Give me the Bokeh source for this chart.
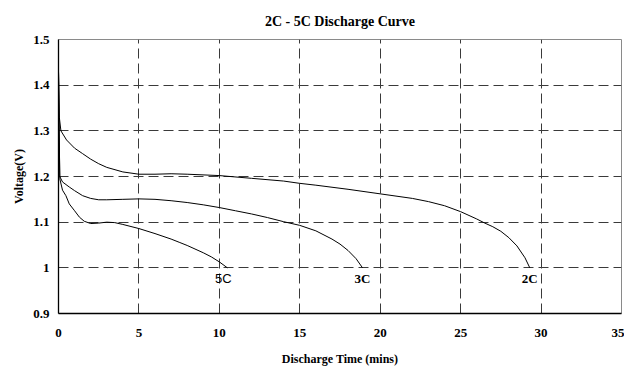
from bokeh.plotting import figure
from bokeh.models import Range1d, FixedTicker, ColumnDataSource
from bokeh.core.properties import value
from bokeh.embed import file_html
from bokeh.resources import INLINE

# ---- data ----
time_2c = [0, 0.05, 0.15, 0.5, 1, 1.5, 2, 2.5, 3, 4, 5, 6, 7, 8, 10, 12, 14, 15, 16,
           18, 20, 22, 23, 24, 25, 26, 26.5, 27, 27.5, 28, 28.5, 29, 29.3]
volt_2c = [1.43, 1.33, 1.30, 1.28, 1.262, 1.25, 1.238, 1.228, 1.22, 1.21, 1.205, 1.205,
           1.206, 1.205, 1.202, 1.196, 1.19, 1.185, 1.181, 1.172, 1.162, 1.152, 1.145,
           1.136, 1.123, 1.107, 1.098, 1.09, 1.08, 1.066, 1.048, 1.022, 1.0]

time_3c = [0, 0.04, 0.08, 0.25, 0.67, 1, 1.5, 2, 2.5, 3, 4, 5, 6, 7, 8, 9, 10, 11, 12,
           13, 14, 15, 16, 17, 17.5, 18, 18.5, 18.9]
volt_3c = [1.43, 1.30, 1.20, 1.188, 1.177, 1.169, 1.158, 1.152, 1.149, 1.149, 1.15, 1.151,
           1.15, 1.147, 1.143, 1.138, 1.132, 1.125, 1.118, 1.11, 1.101, 1.093, 1.081,
           1.063, 1.052, 1.038, 1.02, 1.0]

time_5c = [0, 0.04, 0.08, 0.25, 0.46, 0.67, 1, 1.3, 1.6, 2, 2.5, 3, 3.5, 4, 5, 6, 7,
           7.5, 8, 9, 9.5, 10, 10.5]
volt_5c = [1.43, 1.30, 1.195, 1.17, 1.158, 1.14, 1.125, 1.111, 1.102, 1.097, 1.098, 1.1,
           1.099, 1.095, 1.086, 1.075, 1.063, 1.056, 1.049, 1.033, 1.024, 1.013, 1.0]

series_names = ["2C", "3C", "5C"]

x_ticks = [0, 5, 10, 15, 20, 25, 30, 35]
x_tick_labels = ["0", "5", "10", "15", "20", "25", "30", "35"]
y_ticks = [0.9, 1.0, 1.1, 1.2, 1.3, 1.4, 1.5]
y_tick_labels = ["0.9", "1", "1.1", "1.2", "1.3", "1.4", "1.5"]

title_text = "2C - 5C Discharge Curve"
x_title = "Discharge Time (mins)"
y_title = "Voltage(V)"

# ---- figure ----
SERIF = "Liberation Serif"

p = figure(width=624, height=368, output_backend="svg", toolbar_location=None,
           x_range=Range1d(0, 35), y_range=Range1d(0.9, 1.5),
           min_border_left=58, min_border_right=3, min_border_top=39, min_border_bottom=55)
p.background_fill_color = "white"
p.border_fill_color = "white"
p.outline_line_color = "#8a8a8a"
p.outline_line_width = 1

p.title.text = title_text
p.title.align = "center"
p.title.text_font = SERIF
p.title.text_font_style = "bold"
p.title.text_font_size = "14px"
p.title.text_color = "black"
p.title.standoff = 21

for ax in (p.xaxis[0], p.yaxis[0]):
    ax.axis_line_color = "black"
    ax.axis_line_width = 1.3
    ax.major_tick_line_color = None
    ax.minor_tick_line_color = None
    ax.major_label_text_font = SERIF
    ax.major_label_text_font_style = "bold"
    ax.major_label_text_font_size = "13px"
    ax.major_label_text_color = "black"
    ax.axis_label_text_font = SERIF
    ax.axis_label_text_font_style = "bold"
    ax.axis_label_text_font_size = "12px"
    ax.axis_label_text_color = "black"

p.xaxis[0].ticker = FixedTicker(ticks=x_ticks)
p.xaxis[0].major_label_overrides = dict(zip(x_ticks, x_tick_labels))
p.xaxis[0].major_label_standoff = 9
p.xaxis[0].axis_label = x_title
p.xaxis[0].axis_label_standoff = 12

p.yaxis[0].ticker = FixedTicker(ticks=y_ticks)
p.yaxis[0].major_label_overrides = dict(zip(y_ticks, y_tick_labels))
p.yaxis[0].major_label_standoff = 3
p.yaxis[0].axis_label = y_title
p.yaxis[0].axis_label_standoff = 4

for g in (p.xgrid[0], p.ygrid[0]):
    g.grid_line_color = "#3a3a3a"
    g.grid_line_dash = "10 5"
    g.grid_line_width = 1

series = [(time_2c, volt_2c), (time_3c, volt_3c), (time_5c, volt_5c)]
label_styles = {
    "2C": dict(text_font=value(SERIF), text_font_style="bold", x_offset=0),
    "3C": dict(text_font=value(SERIF), text_font_style="bold", x_offset=0),
    "5C": dict(text_font=value("Liberation Sans"), text_font_style="normal", x_offset=-4),
}
for name, (t, v) in zip(series_names, series):
    p.line(t, v, line_color="black", line_width=1)
    src = ColumnDataSource(dict(x=[t[-1]], y=[v[-1]], txt=[name]))
    p.text(x="x", y="y", text="txt", source=src, text_align="center",
           text_baseline="top", y_offset=3, text_font_size="13px",
           text_color="black", **label_styles[name])

open("out.html", "w").write(file_html(p, INLINE))
